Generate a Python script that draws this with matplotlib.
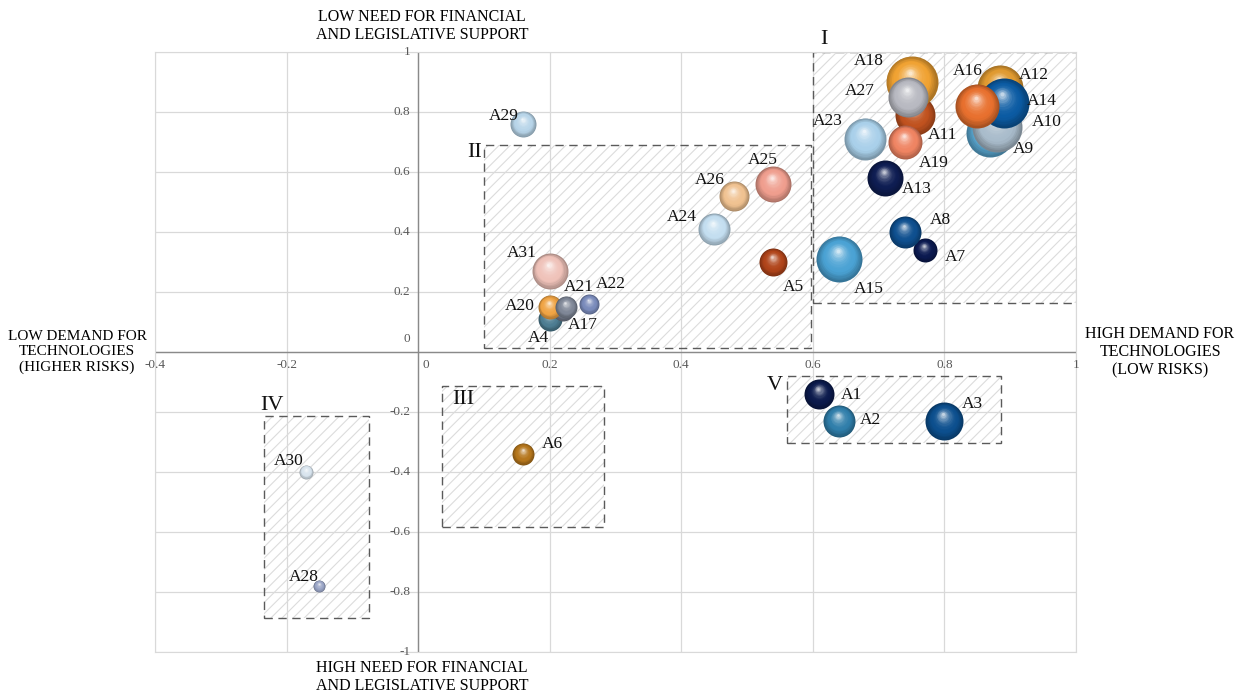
import numpy as np
import matplotlib
matplotlib.use("Agg")
import matplotlib.pyplot as plt
from matplotlib.patches import Rectangle
from matplotlib.colors import to_rgb
from matplotlib.transforms import offset_copy

plt.rcParams['font.family'] = ['Liberation Serif', 'DejaVu Serif']
plt.rcParams['hatch.linewidth'] = 0.8

# bubble data
names = ['A1', 'A2', 'A3', 'A4', 'A5', 'A6', 'A7', 'A8', 'A9', 'A10',
         'A11', 'A12', 'A13', 'A14', 'A15', 'A16', 'A17', 'A18', 'A19', 'A20',
         'A21', 'A22', 'A23', 'A24', 'A25', 'A26', 'A27', 'A28', 'A29', 'A30', 'A31']
x_vals = [0.61, 0.64, 0.80, 0.20, 0.54, 0.16, 0.77, 0.74, 0.87, 0.88,
          0.755, 0.885, 0.71, 0.89, 0.64, 0.85, 0.22, 0.75, 0.74, 0.20,
          0.225, 0.26, 0.68, 0.45, 0.54, 0.48, 0.745, -0.15, 0.16, -0.17, 0.20]
y_vals = [-0.14, -0.23, -0.23, 0.11, 0.30, -0.34, 0.34, 0.40, 0.73, 0.75,
          0.79, 0.88, 0.58, 0.83, 0.31, 0.82, 0.14, 0.90, 0.70, 0.15,
          0.15, 0.16, 0.71, 0.41, 0.56, 0.52, 0.85, -0.78, 0.76, -0.40, 0.27]
sizes = [15, 16, 19, 12, 14, 11, 12, 16, 24, 25,
         20, 23, 18, 25, 23, 22, 11, 26, 17, 12,
         11, 10, 21, 16, 18, 15, 20, 6, 13, 7, 18]
colors = ['#0b1a4c', '#2f7eaa', '#0c4f8e', '#4d7d92', '#b0441a', '#b5761c', '#0b1a50', '#0e4f8f', '#5aa8d2', '#a9bccb',
          '#c0521f', '#e09a30', '#0e1d52', '#0b5ba3', '#4aa2d4', '#e8702e', '#737a8a', '#f0a232', '#ef8462', '#f0a444',
          '#7f8797', '#7a8bbb', '#a9d0ea', '#c3def0', '#ef9e8e', '#f0c291', '#b8b9c1', '#9aa5c6', '#b8d5e9', '#d8e4ee', '#efc2b9']

# label offsets in pixels (dx, dy downwards)
label_off = {
    'A1': (32, 1), 'A2': (31, -1), 'A3': (28, -17), 'A4': (-11, 19), 'A5': (20, 25),
    'A6': (29, -10), 'A7': (31, 7), 'A8': (35, -12), 'A9': (33, 16), 'A10': (50, -5),
    'A11': (28, 20), 'A12': (33, -13), 'A13': (32, 11), 'A14': (38, -2), 'A15': (30, 30),
    'A16': (-10, -35), 'A17': (20, 15), 'A18': (-43, -21), 'A19': (29, 21), 'A20': (-30, -1),
    'A21': (13, -20), 'A22': (22, -20), 'A23': (-38, -18), 'A24': (-32, -12), 'A25': (-11, -24),
    'A26': (-24, -16), 'A27': (-48, -6), 'A28': (-16, -9), 'A29': (-20, -8), 'A30': (-18, -11),
    'A31': (-28, -18),
}

# zone boxes: (x0, y0, x1, y1)
zone_names = ['I', 'II', 'III', 'IV', 'V']
zones = [(0.60, 0.165, 1.003, 1.0), (0.10, 0.015, 0.597, 0.69), (0.037, -0.583, 0.283, -0.113),
         (-0.234, -0.887, -0.075, -0.213), (0.56, -0.303, 0.886, -0.08)]
zone_label_pos = [(0.611, 1.04), (0.075, 0.665), (0.052, -0.16), (-0.24, -0.18), (0.53, -0.11)]

fig = plt.figure(figsize=(12.39, 6.97), dpi=100)
ax = fig.add_axes([155 / 1239, 1 - 652 / 697, (1076 - 155) / 1239, 600 / 697])
ax.set_xlim(-0.4, 1.0)
ax.set_ylim(-1.0, 1.0)

grid_c = '#d9d9d9'
for v in np.arange(-0.4, 1.01, 0.2):
    ax.axvline(v, color=grid_c, lw=0.9, zorder=0)
for v in np.arange(-1.0, 1.01, 0.2):
    ax.axhline(v, color=grid_c, lw=0.9, zorder=0)
ax.axhline(0, color='#8a8a8a', lw=1.0, zorder=1)
ax.axvline(0, color='#8a8a8a', lw=1.0, zorder=1)
for sp in ax.spines.values():
    sp.set_color(grid_c)
ax.set_xticks([])
ax.set_yticks([])

# tick labels in Excel style, along the centre axes
tick_c = '#595959'
for v in [-0.4, -0.2, 0.2, 0.4, 0.6, 0.8, 1.0]:
    ax.text(v, -0.025, f'{v:g}', ha='center', va='top', fontsize=9.5, color=tick_c)
ax.text(0.012, -0.025, '0', ha='center', va='top', fontsize=9.5, color=tick_c)
for v in [-1.0, -0.8, -0.6, -0.4, -0.2, 0.2, 0.4, 0.6, 0.8, 1.0]:
    ax.text(-0.012, v, f'{v:g}', ha='right', va='center', fontsize=9.5, color=tick_c)
ax.text(-0.012, 0.045, '0', ha='right', va='center', fontsize=9.5, color=tick_c)

# zones
for (x0, y0, x1, y1), zn, (lx, ly) in zip(zones, zone_names, zone_label_pos):
    ax.add_patch(Rectangle((x0, y0), x1 - x0, y1 - y0, facecolor='none', edgecolor='#dcdcdc',
                           lw=0, hatch='///', zorder=1.5))
    ax.add_patch(Rectangle((x0, y0), x1 - x0, y1 - y0, facecolor='none', edgecolor='#5a5a5a',
                           lw=1.0, ls=(0, (6, 4)), zorder=1.6))
    ax.text(lx, ly, zn, fontsize=16, ha='left', va='center', color='#111111')


def sphere(x, y, r, color, z):
    base = np.array(to_rgb(color))
    n = 16
    for i in range(n):
        t = i / (n - 1)
        rr = r * (1 - 0.92 * t)
        off = r * 0.36 * t
        if t < 0.3:
            c = base * (0.72 + 0.28 * t / 0.3)
        else:
            k = (t - 0.3) / 0.7
            c = base + (1 - base) * 0.75 * k ** 2.2
        tr = offset_copy(ax.transData, fig=fig, x=-off * 0.2, y=off, units='dots')
        ax.scatter([x], [y], s=(2 * rr * 0.72) ** 2, color=np.clip(c, 0, 1), lw=0,
                   transform=tr, zorder=z)


for i, (nm, x, y, r, c) in enumerate(zip(names, x_vals, y_vals, sizes, colors)):
    sphere(x, y, r, c, 3 + i * 0.01)
    dx, dy = label_off[nm]
    tr = offset_copy(ax.transData, fig=fig, x=dx, y=-dy, units='dots')
    ax.text(x, y, nm, transform=tr, ha='center', va='center', fontsize=12.5, color='#111111', zorder=5)

fig.text(422 / 1239, 1 - 26 / 697, 'LOW NEED FOR FINANCIAL\nAND LEGISLATIVE SUPPORT',
         ha='center', va='center', fontsize=11.5, linespacing=1.2)
fig.text(422 / 1239, 1 - 677 / 697, 'HIGH NEED FOR FINANCIAL\nAND LEGISLATIVE SUPPORT',
         ha='center', va='center', fontsize=11.5, linespacing=1.2)
fig.text(77 / 1239, 1 - 352 / 697, 'LOW DEMAND FOR\nTECHNOLOGIES\n(HIGHER RISKS)',
         ha='center', va='center', fontsize=11, linespacing=1.25)
fig.text(1160 / 1239, 1 - 352 / 697, 'HIGH DEMAND FOR\nTECHNOLOGIES\n(LOW RISKS)',
         ha='center', va='center', fontsize=11.5, linespacing=1.2)

fig.savefig('out.png', dpi=100)
